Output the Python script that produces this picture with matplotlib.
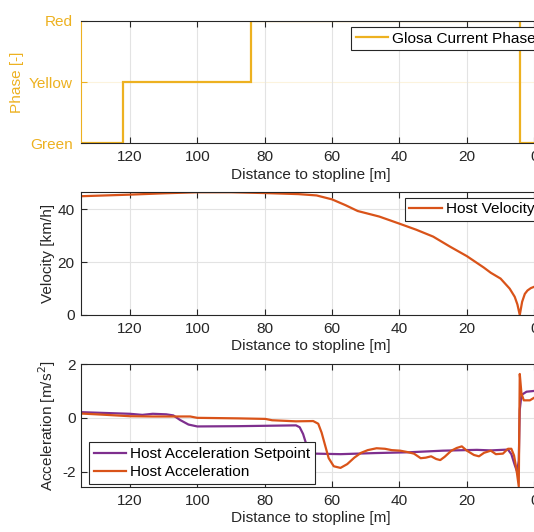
import matplotlib
matplotlib.use("Agg")
import matplotlib.pyplot as plt
import numpy as np

plt.rcParams['font.family'] = ['Liberation Sans', 'DejaVu Sans']
plt.rcParams['axes.unicode_minus'] = False

# ---------------- data ----------------
phase_edges = [134.5, 122.0, 84.0, 4.2, -2.0]
phase_vals = [0, 1, 2, 0]
phase_ticks = [0, 1, 2]
phase_labels = ["Green", "Yellow", "Red"]

vel_dist = [134.5, 120, 110, 100, 90, 80, 70, 64.6, 60, 56, 52.4, 46, 40, 35, 30,
            25, 20, 15, 12.9, 10, 7.3, 5.8, 5.0, 4.3, 3.6, 2.8, 2.0, 1.0, 0.0, -2.0]
vel_vals = [45.0, 45.6, 46.1, 46.5, 46.5, 46.2, 45.8, 45.3, 43.8, 41.6, 39.4, 37.3, 34.6, 32.3, 29.7,
            25.9, 22.3, 18.0, 16.0, 13.8, 10.0, 6.9, 4.0, 0.0, 5.0, 8.0, 9.3, 10.2, 10.7, 11.2]

acc_sp_dist = [134.5, 120, 116.3, 113.2, 109.2, 107.1, 105.1, 102.6, 100, 87.9, 70.7, 69.6,
               68.6, 67.6, 66.6, 65.1, 57.5, 47.4, 37.2, 27.1, 17.0, 12.9, 7.8, 6.8, 5.8,
               5.1, 4.6, 4.3, 3.8, 2.3, 0.0, -2.0]
acc_sp_vals = [0.21, 0.15, 0.11, 0.15, 0.13, 0.09, -0.08, -0.25, -0.32, -0.31, -0.28, -0.35,
               -0.6, -1.0, -1.25, -1.33, -1.35, -1.31, -1.28, -1.22, -1.19, -1.21, -1.18, -1.35, -1.75,
               -2.0, -1.6, 0.3, 0.85, 0.97, 1.0, 1.0]

acc_dist = [134.5, 128.4, 120, 113.2, 102.1, 100, 87.9, 79.8, 77.8, 70.7, 65.6, 64.1, 63.1,
            62.0, 61.0, 59.5, 57.5, 55.5, 53.4, 51.4, 49.4, 46.8, 44.3, 42.3, 39.8, 37.7,
            35.7, 33.7, 32.2, 30.6, 29.1, 27.9, 26.6, 24.6, 23.0, 21.5, 20.0, 17.9, 16.4,
            14.9, 12.9, 11.4, 9.3, 7.8, 6.8, 6.0, 5.3, 4.6, 4.3, 3.8, 3.1, 1.3, 0.0, -2.0]
acc_vals = [0.16, 0.12, 0.06, 0.05, 0.05, 0.0, -0.02, -0.04, -0.09, -0.13, -0.12, -0.22, -0.55,
            -1.05, -1.5, -1.8, -1.86, -1.72, -1.48, -1.3, -1.2, -1.13, -1.15, -1.2, -1.22, -1.27,
            -1.33, -1.5, -1.48, -1.43, -1.53, -1.57, -1.45, -1.22, -1.12, -1.06, -1.22, -1.38, -1.43,
            -1.3, -1.22, -1.35, -1.33, -1.15, -1.15, -1.4, -1.9, -2.55, 1.63, 0.9, 0.65, 0.65, 0.75, 0.8]

x_ticks = [120, 100, 80, 60, 40, 20, 0]
xlim = (134.5, -2.0)

# ---------------- style ----------------
C_YEL = '#EDB120'
C_ORA = '#D95319'
C_PUR = '#7E2F8E'
C_AX = '#262626'
C_GRID = '#e3e3e3'
FS = 11.1

W, H = 534, 532
fig = plt.figure(figsize=(W / 100, H / 100), dpi=100)

left_px = 81
right_px = 541
def ax_at(top, bottom):
    return fig.add_axes([left_px / W, 1 - bottom / H, (right_px - left_px) / W, (bottom - top) / H])

ax1 = ax_at(20.7, 143.3)
ax2 = ax_at(192.0, 315.0)
ax3 = ax_at(364.0, 487.0)

def style(ax, ycolor=C_AX, ypad=4.5):
    ax.set_xlim(*xlim)
    ax.set_xticks(x_ticks)
    ax.set_xticklabels([str(t) for t in x_ticks])
    ax.tick_params(axis='x', which='both', direction='in', top=True, bottom=True,
                   length=4, width=0.8, colors=C_AX, labelsize=FS, pad=5)
    ax.tick_params(axis='y', which='both', direction='in', left=True, right=False,
                   length=4, width=0.8, colors=ycolor, labelsize=FS, pad=ypad)
    for s in ['top', 'bottom']:
        ax.spines[s].set_color(C_AX)
        ax.spines[s].set_linewidth(0.8)
    ax.spines['left'].set_color(ycolor)
    ax.spines['left'].set_linewidth(0.8)
    ax.spines['right'].set_visible(False)
    ax.grid(True, color=C_GRID, linewidth=0.8)
    ax.set_axisbelow(True)
    ax.set_xlabel("Distance to stopline [m]", fontsize=FS, color=C_AX, labelpad=2.5)

def legend(ax, loc, anchor):
    lg = ax.legend(loc=loc, bbox_to_anchor=anchor, fontsize=FS, frameon=True, fancybox=False,
                   framealpha=1, edgecolor=C_AX, borderaxespad=0, borderpad=0.3,
                   handlelength=2.1, handletextpad=0.25, labelspacing=0.25)
    lg.get_frame().set_linewidth(0.8)
    for t in lg.get_texts():
        t.set_color('black')
    return lg

# Panel 1: phase
style(ax1, ycolor=C_YEL, ypad=6)
ax1.stairs(phase_vals, phase_edges, baseline=None, color=C_YEL, linewidth=1.6,
           label="Glosa Current Phase")
ax1.set_ylim(0, 2)
ax1.set_yticks(phase_ticks)
ax1.set_yticklabels(phase_labels, color=C_YEL)
ax1.grid(False, axis='y')
ax1.axhline(1, color=C_YEL, alpha=0.15, linewidth=0.8, zorder=0)
ax1.set_ylabel("Phase [-]", fontsize=FS, color=C_YEL, labelpad=3)
legend(ax1, 'upper left', (0.587, 0.947))

# Panel 2: velocity
style(ax2)
ax2.plot(vel_dist, vel_vals, color=C_ORA, linewidth=1.6, label="Host Velocity")
ax2.set_ylim(0, 46.6)
ax2.set_yticks([0, 20, 40])
ax2.set_ylabel("Velocity [km/h]", fontsize=FS, color=C_AX, labelpad=2)
legend(ax2, 'upper left', (0.704, 0.954))

# Panel 3: acceleration
style(ax3, ypad=3.5)
ax3.plot(acc_sp_dist, acc_sp_vals, color=C_PUR, linewidth=1.6, label="Host Acceleration Setpoint")
ax3.plot(acc_dist, acc_vals, color=C_ORA, linewidth=1.6, label="Host Acceleration")
ax3.set_ylim(-2.57, 2)
ax3.set_yticks([-2, 0, 2])
ax3.set_ylabel("Acceleration [m/s$^2$]", fontsize=FS, color=C_AX, labelpad=3)
legend(ax3, 'lower left', (0.018, 0.028))

fig.savefig("out.png", dpi=100)
